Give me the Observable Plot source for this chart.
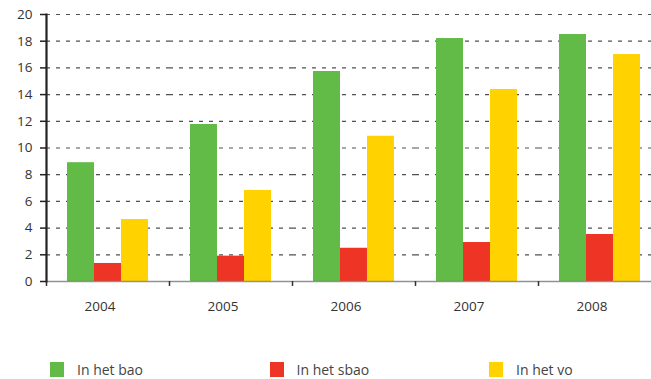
<!DOCTYPE html>
<html>
<head>
<meta charset="utf-8">
<script src="https://cdn.jsdelivr.net/npm/d3@7"></script>
<script src="https://cdn.jsdelivr.net/npm/@observablehq/plot@0.6"></script>
<style>
  html, body { margin: 0; padding: 0; background: #fff; }
  #wrap { position: relative; width: 651px; height: 379px; overflow: hidden; font-family: "Open Sans", "Noto Sans", sans-serif; }
  #legend { position: absolute; left: 0; top: 361px; height: 17px; display: flex; }
  .item { display: flex; align-items: center; width: 219.5px; height: 17px; line-height: 17px; box-sizing: border-box; padding-left: 50px; font-size: 14px; color: #444; }
  .sw { width: 14px; height: 15px; margin-right: 13px; }
</style>
</head>
<body>
<div id="wrap"><div id="chart"></div><div id="legend"></div></div>
<script>
const years = ["2004", "2005", "2006", "2007", "2008"];
const series = ["In het bao", "In het sbao", "In het vo"];
const bao = [8.9, 11.76, 15.73, 18.2, 18.5];
const sbao = [1.35, 1.9, 2.49, 2.92, 3.52];
const vo = [4.64, 6.82, 10.88, 14.38, 17.0];
const colors = ["#62bb47", "#ee3424", "#ffd200"];
const yTicks = [0, 2, 4, 6, 8, 10, 12, 14, 16, 18, 20];

const values = [bao, sbao, vo];
const data = years.flatMap((year, i) => series.map((s, j) => ({year, series: s, value: values[j][i]})));

const W = 651, H = 345;
const left = 46, bandCount = years.length, band = 123;
const fxRange = [left, left + band * bandCount];

const chart = Plot.plot({
  width: W,
  height: H,
  marginTop: 14,
  marginBottom: H - 281,
  marginLeft: left,
  marginRight: W - fxRange[1],
  style: {fontFamily: "'Open Sans', 'Noto Sans', sans-serif", fontSize: "13px", color: "#333", overflow: "hidden"},
  facet: {marginTop: 0, marginRight: 0, marginBottom: 0, marginLeft: 0},
  fx: {domain: years, range: fxRange, paddingInner: 0, paddingOuter: 0, axis: null, label: null},
  x: {domain: series, paddingInner: 0, paddingOuter: 0.7, axis: null, label: null},
  y: {domain: [0, 20], axis: null, label: null},
  color: {domain: series, range: colors},
  marks: [
    Plot.gridY(yTicks.slice(1), {stroke: "#333", strokeOpacity: 0.85, strokeWidth: 1.2, strokeDasharray: "4,6"}),
    Plot.barY(data, {fx: "year", x: "series", y: "value", fill: "series", inset: 0}),
    Plot.ruleY([0], {stroke: "#777", strokeWidth: 1.5, strokeOpacity: 0.8}),
    Plot.axisY(yTicks, {tickSize: 6, tickPadding: 8, stroke: "#222", strokeWidth: 1.5, fill: "#333", fontSize: 13.5, label: null}),
    Plot.frame({anchor: "left", facetAnchor: "left", stroke: "#222", strokeWidth: 2.2}),
    Plot.axisFx({anchor: "bottom", tickSize: 5, tickFormat: () => "", dx: -band / 2, stroke: "#333", strokeWidth: 1.5, label: null}),
    Plot.axisFx({anchor: "bottom", tickSize: 0, tickPadding: 20, dx: -8, fill: "#333", fontSize: 13.5, label: null})
  ]
});
document.getElementById("chart").appendChild(chart);

const legend = document.getElementById("legend");
series.forEach((s, i) => {
  const it = document.createElement("div");
  it.className = "item";
  const sw = document.createElement("div");
  sw.className = "sw";
  sw.style.background = colors[i];
  const t = document.createElement("span");
  t.textContent = s;
  it.appendChild(sw);
  it.appendChild(t);
  legend.appendChild(it);
});
</script>
</body>
</html>
